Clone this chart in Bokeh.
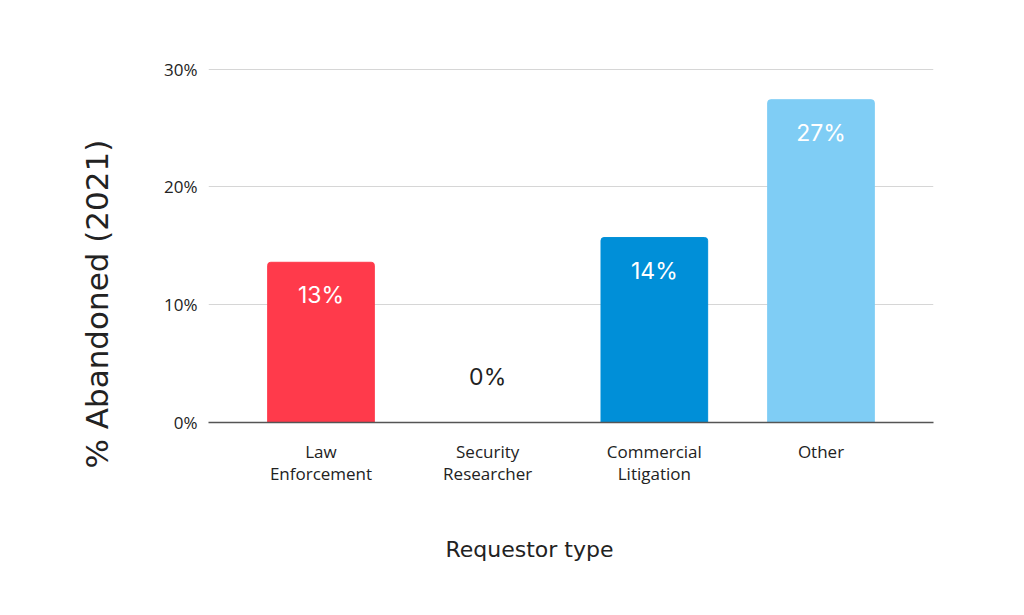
from bokeh.plotting import figure
from bokeh.models import Range1d, FixedTicker, PrintfTickFormatter, ColumnDataSource, Title
from bokeh.core.properties import value
from bokeh.embed import file_html
from bokeh.resources import INLINE

categories = ["Law\nEnforcement", "Security\nResearcher", "Commercial\nLitigation", "Other"]
values = [13.6, 0.0, 15.7, 27.4]
bar_labels = ["13%", "0%", "14%", "27%"]
colors = ["#FF3A4B", "#FF3A4B", "#008FD8", "#7FCDF5"]
y_ticks = [0, 10, 20, 30]

xs = list(range(len(categories)))
label_colors = ["#FFFFFF" if v > 0 else "#222222" for v in values]
label_offsets = [33 if v > 0 else -46 for v in values]

src = ColumnDataSource(dict(x=xs, top=values, color=colors, lab=bar_labels,
                            lc=label_colors, off=label_offsets))

p = figure(width=1024, height=615, output_backend="svg", toolbar_location=None,
           x_range=Range1d(-0.675, 3.675), y_range=Range1d(0, 30.05),
           min_border_left=208, min_border_right=91, min_border_top=68, min_border_bottom=193)
p.outline_line_color = None
p.background_fill_color = "white"
p.border_fill_color = "white"

p.vbar(x="x", top="top", bottom=0, width=0.64, color="color", source=src,
       border_radius=(3, 3, 0, 0))
p.text(x="x", y="top", text="lab", source=src, text_color="lc", y_offset="off",
       text_align="center", text_baseline="middle", text_font=value("Inter"),
       text_font_size="23px", text_font_style="normal")

# y axis
p.yaxis.ticker = FixedTicker(ticks=y_ticks)
p.yaxis.formatter = PrintfTickFormatter(format="%d%%")
p.yaxis.axis_line_color = None
p.yaxis.major_tick_line_color = None
p.yaxis.minor_tick_line_color = None
p.yaxis.major_label_standoff = 5
p.yaxis.major_label_text_font = "Open Sans"
p.yaxis.major_label_text_font_size = "17px"
p.yaxis.major_label_text_color = "#222222"

# x axis
p.xaxis.ticker = FixedTicker(ticks=xs)
p.xaxis.major_label_overrides = {i: c for i, c in zip(xs, categories)}
p.xaxis.axis_line_color = "#555555"
p.xaxis.axis_line_width = 1.5
p.xaxis.major_tick_line_color = None
p.xaxis.minor_tick_line_color = None
p.xaxis.major_label_standoff = 11
p.xaxis.major_label_text_font = "Open Sans"
p.xaxis.major_label_text_font_size = "17px"
p.xaxis.major_label_text_line_height = 0.97
p.xaxis.major_label_text_color = "#222222"

p.xgrid.grid_line_color = None
p.ygrid.grid_line_color = "#D6D6D6"
p.ygrid.grid_line_width = 1

p.add_layout(Title(text="% Abandoned (2021)", align="left", offset=-46, standoff=94,
                   vertical_align="bottom", text_font="DejaVu Sans", text_font_size="31px",
                   text_font_style="normal", text_color="#222222"), "left")
p.add_layout(Title(text="Requestor type", align="left", offset=237, standoff=98,
                   vertical_align="top", text_font="DejaVu Sans", text_font_size="22px",
                   text_font_style="normal", text_color="#222222"), "below")

open("out.html", "w").write(file_html(p, INLINE))
